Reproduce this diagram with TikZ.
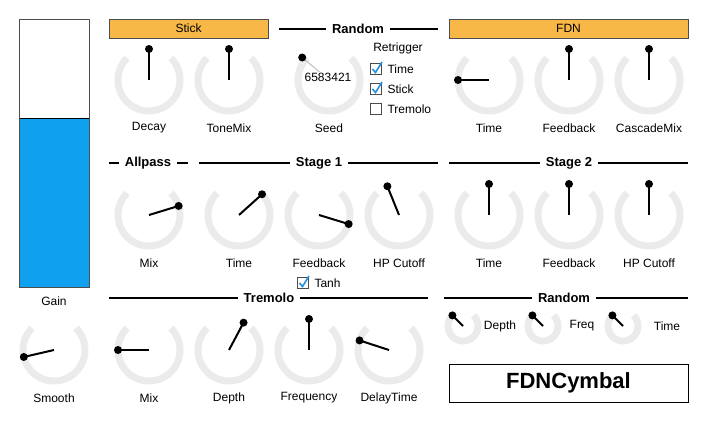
\documentclass[tikz,border=0pt]{standalone}
\usepackage{fontspec}
\setmainfont{Liberation Sans}
\definecolor{trackgray}{HTML}{EBEBEB}
\definecolor{headorange}{HTML}{F8B848}
\definecolor{meterblue}{HTML}{10A0F0}
\definecolor{checkblue}{HTML}{2090E0}
\tikzset{
	label/.style={font=\fontsize{12}{14}\selectfont},
	title/.style={font=\bfseries\fontsize{13}{15}\selectfont, fill=white, inner xsep=6pt},
	head/.style={draw=black!70, fill=headorange, font=\fontsize{12}{14}\selectfont},
	track/.style={trackgray, line width=7pt},
	pointer/.style={line width=2pt},
}
% knob: x, y, radius, angle, name
\newcommand{\knob}[5]{
	\draw[track] (#1,#2) ++(225:#3) arc[start angle=225, end angle=-45, radius=#3];
	\draw[pointer] (#1,#2) coordinate (#5) -- ++(-#4:#3) node[circle, fill, inner sep=0pt, minimum size=8pt] {};
}
% checkbox: x, y, name, label
\newcommand{\checkbox}[4]{
	\node[draw=black!70, line width=1pt, minimum size=11pt, inner sep=0pt] (#3) at (#1,#2) {};
	\node[label, anchor=west] at ([xshift=2pt]#3.east) {#4};
}
\newcommand{\tick}[1]{
	\draw[checkblue, line width=1.6pt] ([shift={(-3.5pt,0pt)}]#1.center) -- ([shift={(-0.5pt,-3.5pt)}]#1.center) -- ([shift={(6pt,7pt)}]#1.center);
}
\begin{document}
\begin{tikzpicture}[x=1pt, y=-1pt]
	\useasboundingbox (0,0) rectangle (707,423);
	%gain meter
	\draw[fill=meterblue] (19,118) rectangle (89,287);
	\draw[black!70] (19,19) rectangle (89,287);
	\node[label] (gain) at (54,301) {Gain};
	%headers
	\node[head, minimum width=159pt, minimum height=19pt] (stick) at (188.5,28.5) {Stick};
	\node[head, minimum width=239pt, minimum height=19pt] (fdn) at (568.5,28.5) {FDN};
	%section lines
	\draw[line width=1.5pt] (279,29) -- (438,29);
	\node[title] (random1) at (358,29) {Random};
	\draw[line width=1.5pt] (109,163) -- (188,163);
	\node[title] (allpass) at (148,163) {Allpass};
	\draw[line width=1.5pt] (199,163) -- (438,163);
	\node[title] (stage1) at (319,163) {Stage 1};
	\draw[line width=1.5pt] (449,163) -- (688,163);
	\node[title] (stage2) at (569,163) {Stage 2};
	\draw[line width=1.5pt] (109,298) -- (428,298);
	\node[title] (tremolo) at (269,298) {Tremolo};
	\draw[line width=1.5pt] (444,298) -- (688,298);
	\node[title] (random2) at (564,298) {Random};
	%row 1
	\knob{149}{80}{31}{90}{decay}
	\knob{229}{80}{31}{90}{tonemix}
	\draw[track] (329,80) ++(225:31) arc[start angle=225, end angle=-45, radius=31];
	\draw[black!25, line width=1pt] (329,80) coordinate (seed) -- ++(-140:35) node[circle, fill=black, inner sep=0pt, minimum size=8pt] {};
	\node[label, fill=white, inner sep=1pt] at (328,77) {6583421};
	\knob{489}{80}{31}{180}{time1}
	\knob{569}{80}{31}{90}{feedback1}
	\knob{649}{80}{31}{90}{cascade}
	\foreach \x/\t in {149/Decay, 229/ToneMix, 329/Seed, 489/Time, 569/Feedback, 649/CascadeMix}
	\node[label] at (\x,128) {\t};
	%retrigger
	\node[label] (retrigger) at (398,48) {Retrigger};
	\checkbox{376}{69}{cbtime}{Time}
	\checkbox{376}{89}{cbstick}{Stick}
	\checkbox{376}{109}{cbtremolo}{Tremolo}
	\tick{cbtime}
	\tick{cbstick}
	%row 2
	\knob{149}{215}{31}{17}{apmix}
	\knob{239}{215}{31}{42}{s1time}
	\knob{319}{215}{31}{-17}{s1feedback}
	\knob{399}{215}{31}{112}{s1cutoff}
	\knob{489}{215}{31}{90}{s2time}
	\knob{569}{215}{31}{90}{s2feedback}
	\knob{649}{215}{31}{90}{s2cutoff}
	\foreach \x/\t in {149/Mix, 239/Time, 319/Feedback, 399/HP Cutoff, 489/Time, 569/Feedback, 649/HP Cutoff}
	\node[label] at (\x,263) {\t};
	\checkbox{303}{283}{cbtanh}{Tanh}
	\tick{cbtanh}
	%row 3
	\knob{54}{350}{31}{193}{smooth}
	\knob{149}{350}{31}{180}{trmix}
	\knob{229}{350}{31}{62}{trdepth}
	\knob{309}{350}{31}{90}{trfreq}
	\knob{389}{350}{31}{162}{trdelay}
	\foreach \x/\t in {54/Smooth, 149/Mix, 229/Depth, 309/Frequency, 389/DelayTime}
	\node[label] at (\x,398) {\t};
	%random modulation
	\knob{463}{326}{15}{135}{rnddepth}
	\knob{543}{326}{15}{135}{rndfreq}
	\knob{623}{326}{15}{135}{rndtime}
	\node[label] at (500,326) {Depth};
	\node[label] at (582,326) {Freq};
	\node[label] at (667,326) {Time};
	%name
	\node[draw, minimum width=239pt, minimum height=38pt, font=\bfseries\fontsize{22}{24}\selectfont] (name) at (568.5,383) {FDNCymbal};
\end{tikzpicture}
\end{document}
